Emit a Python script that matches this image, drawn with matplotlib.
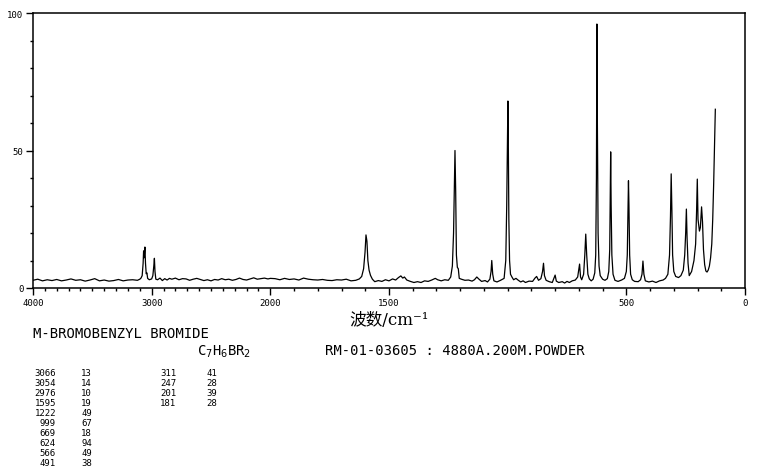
import matplotlib
matplotlib.use("Agg")
import matplotlib.pyplot as plt
import numpy as np

# Raman spectrum, m-bromobenzyl bromide
wavenumber = [
    4000, 3960, 3920, 3880, 3840, 3800, 3760, 3720, 3680, 3640, 3600, 3560,
    3520, 3480, 3440, 3400, 3360, 3320, 3280, 3240, 3200, 3160, 3120, 3100,
    3090, 3080, 3072, 3068, 3063, 3057, 3052, 3046, 3040, 3034, 3020, 3000,
    2990, 2982, 2977, 2972, 2965, 2950, 2930, 2910, 2890, 2870, 2850, 2830,
    2800, 2770, 2740, 2710, 2680, 2650, 2620, 2590, 2560, 2530, 2500, 2470,
    2440, 2410, 2380, 2350, 2320, 2290, 2260, 2230, 2200, 2170, 2140, 2110,
    2080, 2050, 2020, 2000, 1980, 1960, 1940, 1920, 1900, 1880, 1860, 1840,
    1820, 1800, 1780, 1760, 1740, 1720, 1700, 1680, 1660, 1640, 1625, 1615,
    1607, 1601, 1597, 1593, 1589, 1584, 1578, 1570, 1560, 1545, 1530, 1515,
    1500, 1485, 1472, 1460, 1450, 1442, 1435, 1425, 1410, 1395, 1380, 1365,
    1350, 1335, 1320, 1305, 1295, 1280, 1265, 1250, 1240, 1233, 1228, 1225,
    1222, 1219, 1216, 1212, 1208, 1204, 1195, 1180, 1165, 1150, 1140, 1130,
    1122, 1110, 1095, 1085, 1075, 1070, 1067, 1063, 1058, 1045, 1030, 1015,
    1008, 1004, 1001, 999, 997, 995, 992, 988, 982, 975, 965, 955,
    945, 935, 925, 910, 895, 885, 878, 870, 860, 853, 849, 845,
    838, 825, 812, 800, 795, 785, 770, 760, 750, 740, 728, 715,
    705, 700, 697, 693, 688, 680, 675, 671, 667, 662, 656, 648,
    640, 633, 629, 626, 624, 622, 619, 615, 610, 600, 590, 580,
    574, 570, 568, 566, 564, 561, 556, 548, 535, 520, 508, 500,
    496, 493, 491, 489, 486, 482, 475, 465, 450, 440, 434, 430,
    426, 420, 405, 390, 375, 360, 345, 335, 325, 318, 314, 311,
    308, 305, 300, 292, 280, 270, 260, 254, 250, 247, 244, 240,
    235, 225, 215, 208, 204, 201, 198, 192, 188, 183, 179, 175,
    170, 165, 160, 155, 150, 145, 140, 136, 132, 129, 127, 125,
]
intensity = [
    2.8, 3.2, 2.6, 3.0, 2.7, 3.1, 2.6, 2.9, 3.3, 2.8, 3.0, 2.5,
    2.9, 3.4, 2.6, 2.9, 2.5, 2.7, 3.1, 2.6, 2.9, 3.0, 2.8, 3.2,
    3.6, 4.5, 9.0, 13.5, 11.0, 14.9, 9.0, 5.2, 5.5, 3.5, 3.0, 3.3,
    4.5, 8.0, 10.8, 6.0, 3.2, 3.0, 3.6, 2.7, 3.4, 2.9, 3.5, 3.2,
    3.6, 3.0, 3.4, 3.3, 2.8, 3.2, 3.5, 3.1, 2.7, 3.0, 2.6, 3.1,
    2.9, 3.4, 3.0, 3.2, 2.8, 3.1, 3.6, 3.1, 2.9, 3.3, 3.7, 3.2,
    3.4, 3.6, 3.3, 3.5, 3.4, 3.0, 3.5, 3.1, 3.3, 2.9, 3.6, 3.2,
    3.0, 2.9, 3.1, 2.8, 2.7, 3.0, 2.9, 3.2, 2.6, 2.8, 3.3, 4.2,
    7.0, 13.0, 19.3, 17.0, 10.0, 6.5, 4.6, 3.2, 2.3, 2.7, 2.4, 3.0,
    2.6, 3.3, 2.9, 3.8, 4.4, 3.6, 4.0, 2.9, 2.4, 2.0, 2.3, 2.0,
    2.6, 2.4, 2.9, 3.5, 3.0, 2.6, 3.0, 2.8, 4.0, 8.0, 20.0, 34.0,
    50.0, 35.0, 12.0, 7.5, 7.0, 3.5, 3.2, 2.8, 2.9, 2.5, 3.0, 4.0,
    3.3, 2.4, 2.7, 2.2, 3.2, 6.0, 10.0, 5.0, 2.6, 2.2, 2.8, 3.5,
    10.0, 30.0, 55.0, 68.0, 50.0, 25.0, 10.0, 5.0, 4.0, 3.0, 3.5, 2.8,
    2.2, 2.6, 2.0, 2.5, 2.4, 3.6, 4.2, 2.8, 3.4, 6.0, 9.0, 4.5,
    2.8, 2.3, 2.0, 4.7, 2.5, 2.0, 2.3, 1.8, 2.4, 2.0, 2.6, 2.9,
    4.0, 7.0, 8.7, 4.0, 3.0, 5.0, 12.0, 19.6, 12.0, 5.0, 3.3, 2.6,
    3.2, 5.5, 12.0, 40.0, 96.0, 60.0, 20.0, 8.0, 4.5, 3.2, 2.8, 3.4,
    6.0, 14.0, 34.0, 49.5, 30.0, 12.0, 5.0, 2.8, 2.4, 2.9, 3.5, 6.0,
    12.0, 28.0, 39.0, 30.0, 12.0, 5.0, 3.0, 2.4, 2.3, 3.0, 5.0, 9.8,
    5.0, 2.6, 2.2, 2.5, 2.0, 2.6, 2.9, 3.5, 5.0, 12.0, 26.0, 41.5,
    28.0, 12.0, 6.0, 4.2, 3.8, 4.5, 6.5, 12.0, 20.0, 28.7, 18.0, 9.0,
    4.5, 6.0, 10.0, 16.0, 28.0, 39.6, 25.0, 20.7, 22.0, 29.5, 24.0, 14.0,
    8.5, 6.2, 5.8, 6.5, 8.0, 11.0, 16.0, 25.0, 38.0, 50.0, 58.0, 65.0,
]

peak_col1 = ["3066", "3054", "2976", "1595", "1222", "999", "669", "624", "566", "491"]
int_col1 = ["13", "14", "10", "19", "49", "67", "18", "94", "49", "38"]
peak_col2 = ["311", "247", "201", "181"]
int_col2 = ["41", "28", "39", "28"]

x_major = [4000, 3000, 2000, 1500, 500, 0]
x_major_labels = ["4000", "3000", "2000", "1500", "500", "0"]
y_major = [0, 50, 100]

W, H = 761, 477
MONO = "DejaVu Sans Mono"


def fwd(x):
    x = np.asarray(x, dtype=float)
    return np.where(x > 2000, 2000 + (x - 2000) / 2.0, x)


def inv(y):
    y = np.asarray(y, dtype=float)
    return np.where(y > 2000, 2000 + (y - 2000) * 2.0, y)


fig = plt.figure(figsize=(W / 100, H / 100), dpi=100)
ax = fig.add_axes([33 / W, (H - 289) / H, 712 / W, 275 / H])
ax.set_xscale("function", functions=(fwd, inv))
ax.plot(wavenumber, intensity, color="black", lw=0.9)
ax.set_xlim(4000, 0)
ax.set_ylim(0, 100)

ax.set_xticks(x_major)
ax.set_xticklabels(x_major_labels)
ax.set_xticks(np.arange(0, 4001, 100), minor=True)
ax.set_yticks(y_major)
ax.set_yticks(np.arange(0, 101, 10), minor=True)
ax.tick_params(which="major", direction="out", length=5, width=1, pad=2,
               labelsize=6.5, colors="black")
ax.tick_params(which="minor", direction="out", length=2.2, width=1)
for lab in ax.get_xticklabels() + ax.get_yticklabels():
    lab.set_family(MONO)
for sp in ax.spines.values():
    sp.set_linewidth(1.1)

ax.set_xlabel("波数/cm⁻¹", family=["DejaVu Serif", "Noto Sans CJK SC"],
              fontsize=12, labelpad=3)


def px(x, y):
    return x / W, 1 - y / H


fig.text(*px(33, 334), "M-BROMOBENZYL BROMIDE", family=MONO, fontsize=10,
         va="center", ha="left")
fig.text(*px(197, 352), r"C$_7$H$_6$BR$_2$", family=MONO, fontsize=10,
         va="center", ha="left")
fig.text(*px(325, 351), "RM-01-03605 : 4880A.200M.POWDER", family=MONO,
         fontsize=10, va="center", ha="left")

for i, (p, v) in enumerate(zip(peak_col1, int_col1)):
    y = 374 + 10 * i
    fig.text(*px(56, y), p, family=MONO, fontsize=6.5, va="center", ha="right")
    fig.text(*px(92, y), v, family=MONO, fontsize=6.5, va="center", ha="right")
for i, (p, v) in enumerate(zip(peak_col2, int_col2)):
    y = 374 + 10 * i
    fig.text(*px(176, y), p, family=MONO, fontsize=6.5, va="center", ha="right")
    fig.text(*px(217, y), v, family=MONO, fontsize=6.5, va="center", ha="right")

fig.savefig("out.png", dpi=100)
